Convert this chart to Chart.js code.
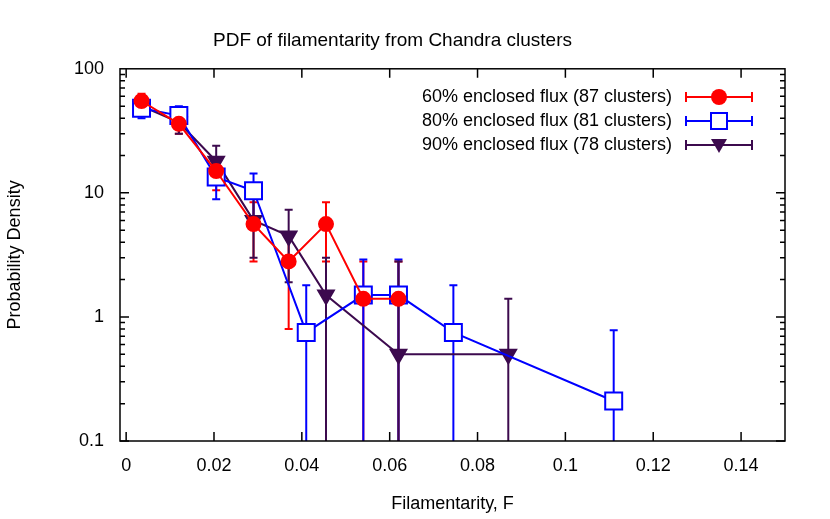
<!DOCTYPE html><html><head><script src="https://cdn.jsdelivr.net/npm/chart.js@4"></script>
<style>body{margin:0;background:#fff}#w{width:830px;height:519px}</style></head><body><div id="w"><canvas id="c"></canvas></div>
<script>
const labels=["60% enclosed flux (87 clusters)","80% enclosed flux (81 clusters)","90% enclosed flux (78 clusters)"];
const redX=[0.0035,0.012,0.0205,0.029,0.037,0.0455,0.054,0.062];
const redY=[55,36,15,5.6,2.8,5.6,1.4,1.4];
const redLo=[47,30,10.5,2.8,0.8,2.8,0.01,0.01];
const redHi=[63,43,19.5,8.4,4.8,8.4,2.8,2.8];
const bluX=[0.0035,0.012,0.0205,0.029,0.041,0.054,0.062,0.0745,0.111];
const bluY=[48,42,13.4,10.4,0.75,1.5,1.5,0.75,0.21];
const bluLo=[40,34,8.9,6.5,0.01,0.01,0.01,0.01,0.01];
const bluHi=[56,50,17.9,14.3,1.8,2.9,2.9,1.8,0.78];
const purX=[0.0035,0.012,0.0205,0.029,0.037,0.0455,0.062,0.087];
const purY=[50,37,18,6,4.5,1.5,0.5,0.5];
const purLo=[42,30,12.7,3,1.9,0.01,0.01,0.01];
const purHi=[58,44,24,9,7.3,3,2.8,1.4];
const xTicks=[0,0.02,0.04,0.06,0.08,0.1,0.12,0.14];
const yTicks=[0.1,1,10,100];
const cols=['#ff0000','#0000ff','#3c0a4e'];
const styles=['circle','rect','triangle'];
function mk(x,y,lo,hi,i){return{label:labels[i],data:x.map((v,k)=>({x:v,y:y[k],lo:lo[k],hi:hi[k]})),borderColor:cols[i],backgroundColor:i==1?'#ffffff':cols[i],borderWidth:2,pointStyle:styles[i],pointRadius:i==0?7:(i==1?12:9),pointRotation:i==2?180:0,pointBorderWidth:2,showLine:true,tension:0};}
const plug={id:'p',beforeDatasetsDraw(ch){const c=ch.ctx,xs=ch.scales.x,ys=ch.scales.y,a=ch.chartArea;
c.save();c.beginPath();c.rect(a.left,a.top,a.width,a.height);c.clip();
ch.data.datasets.forEach((d,i)=>{c.strokeStyle=cols[i];c.lineWidth=2;d.data.forEach(p=>{const X=xs.getPixelForValue(p.x),Y1=ys.getPixelForValue(p.lo),Y2=ys.getPixelForValue(p.hi);c.beginPath();c.moveTo(X,Y1);c.lineTo(X,Y2);c.moveTo(X-4,Y1);c.lineTo(X+4,Y1);c.moveTo(X-4,Y2);c.lineTo(X+4,Y2);c.stroke();});});
c.restore();},
afterDatasetsDraw(ch){const c=ch.ctx,xs=ch.scales.x,ys=ch.scales.y,a=ch.chartArea;
c.strokeStyle='#000';c.lineWidth=1.5;c.strokeRect(a.left,a.top,a.width,a.height);
c.beginPath();
xTicks.forEach(v=>{const X=xs.getPixelForValue(v);c.moveTo(X,a.bottom);c.lineTo(X,a.bottom-9);c.moveTo(X,a.top);c.lineTo(X,a.top+9);});
for(let e=-1;e<2;e++)for(let m=1;m<10;m++){const v=m*Math.pow(10,e);const Y=ys.getPixelForValue(v);const L=m==1?9:5;c.moveTo(a.left,Y);c.lineTo(a.left+L,Y);c.moveTo(a.right,Y);c.lineTo(a.right-L,Y);}
c.stroke();
c.font='18px "Liberation Sans", Arial';c.textAlign='right';c.textBaseline='middle';
ch.data.datasets.forEach((d,i)=>{const y=97+i*24;c.fillStyle='#000';c.fillText(labels[i],672,y);c.strokeStyle=cols[i];c.lineWidth=2;c.beginPath();c.moveTo(686,y);c.lineTo(752,y);c.moveTo(686,y-5);c.lineTo(686,y+5);c.moveTo(752,y-5);c.lineTo(752,y+5);c.stroke();
c.beginPath();const cx=719;if(i==0){c.fillStyle=cols[0];c.arc(cx,y,8,0,7);c.fill();}else if(i==1){c.fillStyle='#fff';c.fillRect(cx-8,y-8,16,16);c.strokeRect(cx-8,y-8,16,16);}else{c.fillStyle=cols[2];c.moveTo(cx-8,y-6);c.lineTo(cx+8,y-6);c.lineTo(cx,y+8);c.closePath();c.fill();}});
}};
new Chart(document.getElementById('c'),{type:'scatter',data:{datasets:[mk(redX,redY,redLo,redHi,0),mk(bluX,bluY,bluLo,bluHi,1),mk(purX,purY,purLo,purHi,2)]},
options:{responsive:true,maintainAspectRatio:false,animation:false,layout:{padding:{top:0,right:45,left:0,bottom:0}},
plugins:{legend:{display:false},tooltip:{enabled:false},title:{display:true,text:'PDF of filamentarity from Chandra clusters',font:{size:19,family:'"Liberation Sans", Arial',weight:'normal'},color:'#000',padding:{top:29,bottom:17}}},
scales:{x:{type:'linear',min:-0.0014,max:0.15,grid:{display:false},border:{display:false},afterBuildTicks(s){s.ticks=xTicks.map(v=>({value:v}));},ticks:{color:'#000',font:{size:18,family:'"Liberation Sans", Arial'},padding:6,maxRotation:0,callback:v=>String(v)},title:{display:true,text:'Filamentarity, F',color:'#000',font:{size:18,family:'"Liberation Sans", Arial'},padding:{top:6}},afterFit(s){s.height=78;}},
y:{type:'logarithmic',min:0.1,max:100,grid:{display:false},border:{display:false},afterBuildTicks(s){s.ticks=yTicks.map(v=>({value:v}));},ticks:{color:'#000',font:{size:18,family:'"Liberation Sans", Arial'},padding:8,callback:v=>String(v)},title:{display:true,text:'Probability Density',color:'#000',font:{size:18,family:'"Liberation Sans", Arial'}},afterFit(s){s.width=120;}}}},
plugins:[plug]});
</script></body></html>
